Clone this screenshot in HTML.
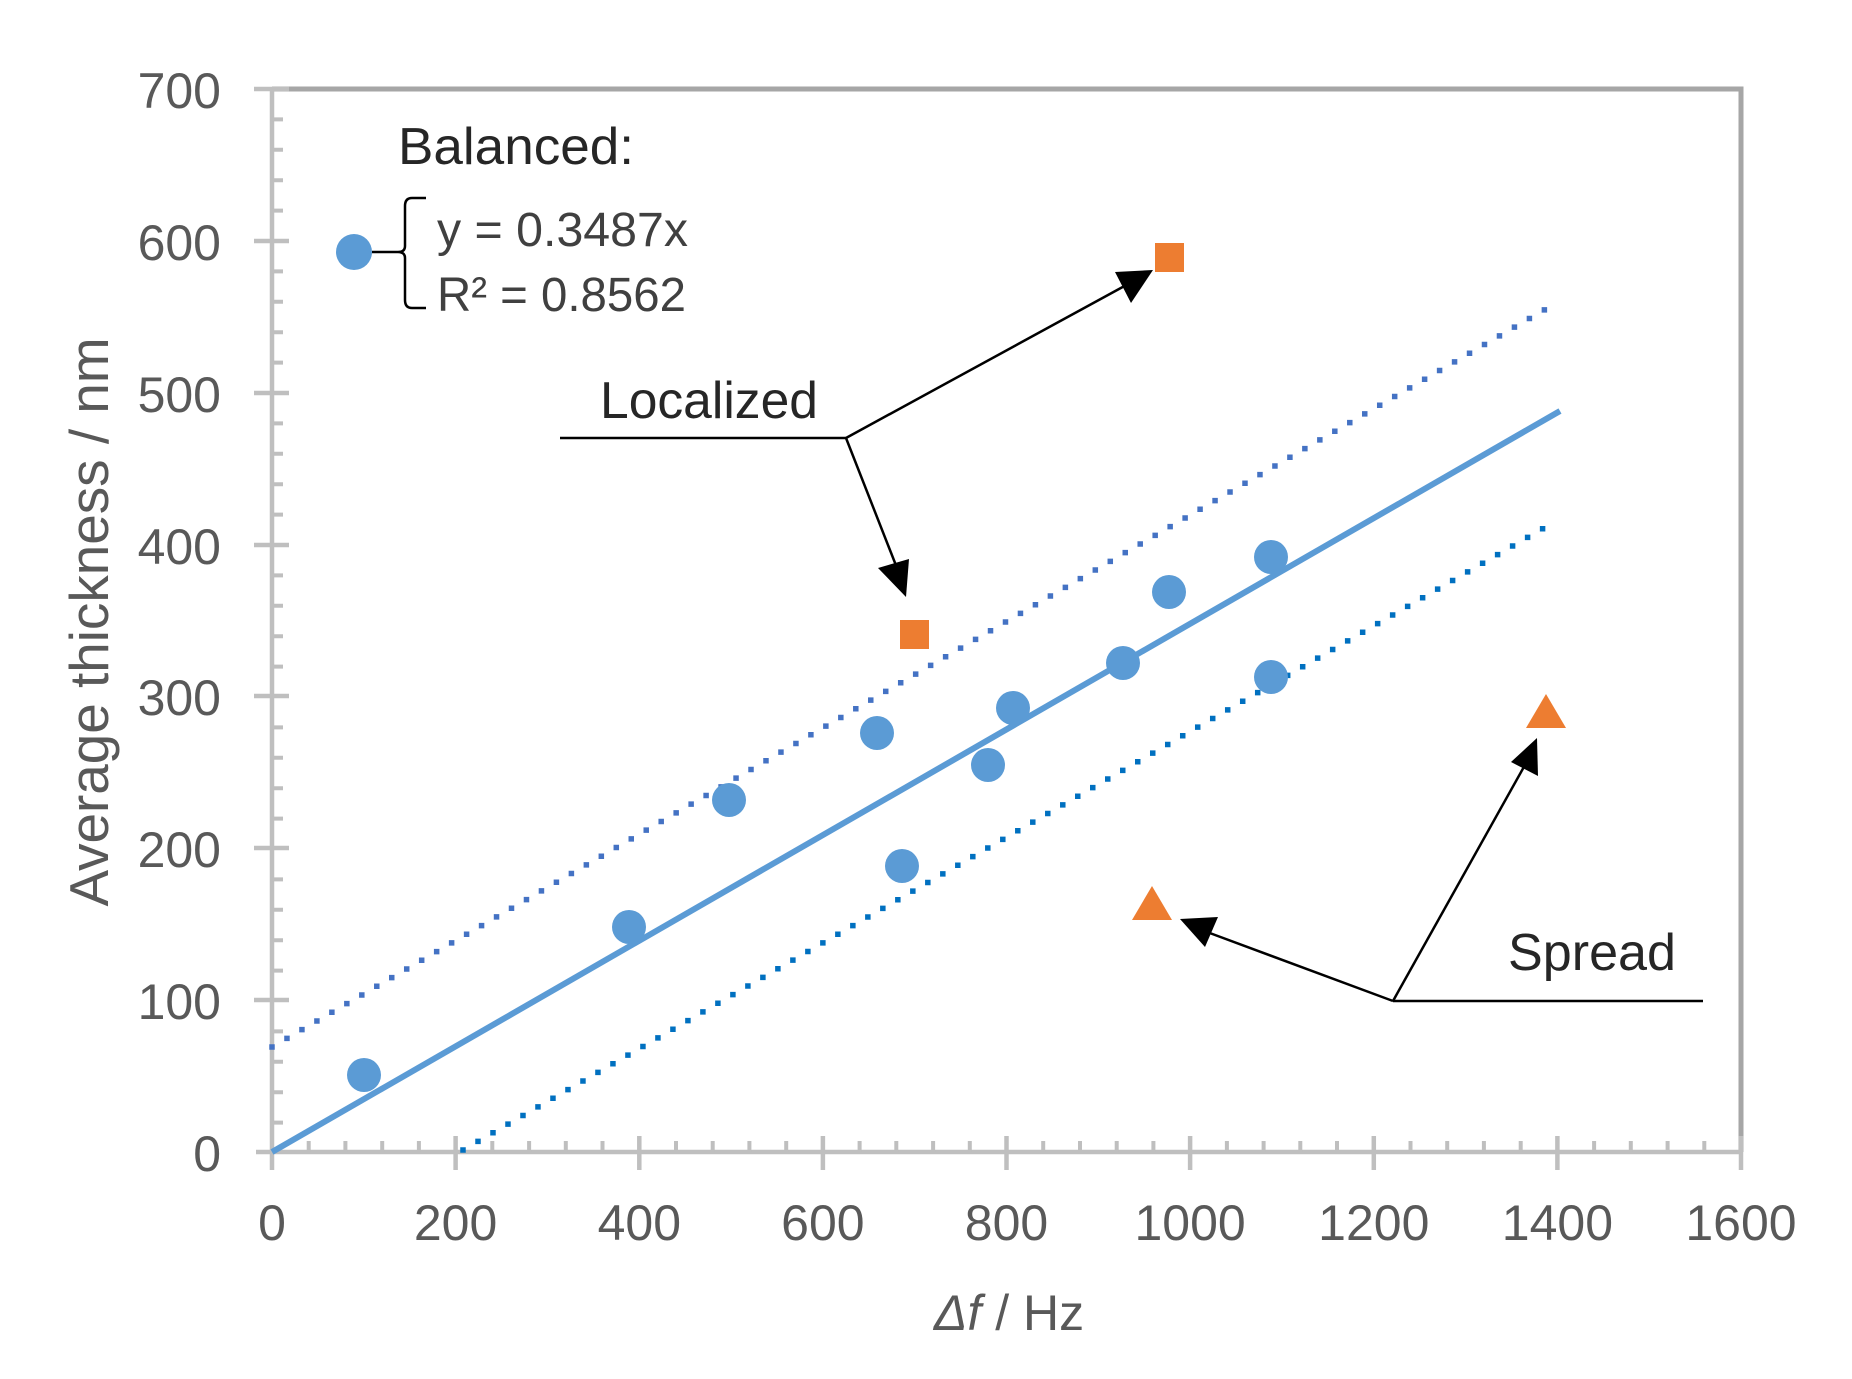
<!DOCTYPE html>
<html><head><meta charset="utf-8"><style>
html,body{margin:0;padding:0;background:#fff;}
svg{display:block;}
</style></head><body>
<svg width="1852" height="1379" viewBox="0 0 1852 1379" xmlns="http://www.w3.org/2000/svg" font-family="Liberation Sans, sans-serif">
<rect width="1852" height="1379" fill="#fff"/>
<!-- top/right border -->
<polyline points="272,89 1741,89 1741,1152" fill="none" stroke="#a6a6a6" stroke-width="5"/>
<!-- axes -->
<g stroke="#bfbfbf" stroke-width="4.5" fill="none">
<line x1="272" y1="87" x2="272" y2="1154"/>
<line x1="256" y1="1152" x2="1743" y2="1152"/>
<!-- y major ticks -->
<path d="M254 89H289M254 241H289M254 393H289M254 545H289M254 696H289M254 848H289M254 1000H289"/>
<!-- x major ticks -->
<path d="M272 1152V1170M455.6 1136V1170M639.3 1136V1170M822.9 1136V1170M1006.5 1136V1170M1190.1 1136V1170M1373.8 1136V1170M1557.4 1136V1170M1741 1136V1170"/>
</g>
<g stroke="#bfbfbf" stroke-width="4" fill="none" id="minor">
<path d="M272 119.4H283M272 149.8H283M272 180.2H283M272 210.6H283M272 271.4H283M272 301.8H283M272 332.2H283M272 362.6H283M272 423.4H283M272 453.8H283M272 484.2H283M272 514.6H283M272 575.4H283M272 605.8H283M272 636.2H283M272 666.6H283M272 727.4H283M272 757.8H283M272 788.2H283M272 818.6H283M272 879.4H283M272 909.8H283M272 940.2H283M272 970.6H283M272 1031.4H283M272 1061.8H283M272 1092.2H283M272 1122.6H283"/>
<path d="M308.7 1152V1141M345.4 1152V1141M382.2 1152V1141M418.9 1152V1141M492.3 1152V1141M529.1 1152V1141M565.8 1152V1141M602.5 1152V1141M676 1152V1141M712.7 1152V1141M749.4 1152V1141M786.2 1152V1141M859.6 1152V1141M896.3 1152V1141M933.1 1152V1141M969.8 1152V1141M1043.2 1152V1141M1080 1152V1141M1116.7 1152V1141M1153.4 1152V1141M1226.9 1152V1141M1263.6 1152V1141M1300.3 1152V1141M1337 1152V1141M1410.5 1152V1141M1447.2 1152V1141M1483.9 1152V1141M1520.7 1152V1141M1594.1 1152V1141M1630.8 1152V1141M1667.6 1152V1141M1704.3 1152V1141"/>
</g>
<!-- y tick labels -->
<g fill="#595959" font-size="50" text-anchor="end">
<text x="221" y="108">700</text>
<text x="221" y="260">600</text>
<text x="221" y="412">500</text>
<text x="221" y="564">400</text>
<text x="221" y="715">300</text>
<text x="221" y="867">200</text>
<text x="221" y="1019">100</text>
<text x="221" y="1171">0</text>
</g>
<g fill="#595959" font-size="50" text-anchor="middle">
<text x="272" y="1240">0</text>
<text x="455.6" y="1240">200</text>
<text x="639.3" y="1240">400</text>
<text x="822.9" y="1240">600</text>
<text x="1006.5" y="1240">800</text>
<text x="1190.1" y="1240">1000</text>
<text x="1373.8" y="1240">1200</text>
<text x="1557.4" y="1240">1400</text>
<text x="1741" y="1240">1600</text>
</g>
<!-- axis titles -->
<text transform="translate(108,622) rotate(-90)" text-anchor="middle" font-size="55" fill="#595959" textLength="569" lengthAdjust="spacingAndGlyphs">Average thickness / nm</text>
<text x="1009" y="1330" text-anchor="middle" font-size="50" fill="#595959"><tspan font-style="italic">Δf</tspan>  / Hz</text>
<!-- trend lines -->
<line x1="272" y1="1152" x2="1560" y2="411" stroke="#5b9bd5" stroke-width="6"/>
<line x1="272" y1="1047" x2="1551" y2="306" stroke="#4472c4" stroke-width="5.5" stroke-dasharray="0 17.3" stroke-linecap="square"/>
<line x1="463" y1="1150" x2="1556" y2="521" stroke="#0070c0" stroke-width="5.5" stroke-dasharray="0 17.3" stroke-linecap="square"/>
<!-- blue points -->
<g fill="#5b9bd5">
<circle cx="364" cy="1075" r="17"/>
<circle cx="629" cy="927" r="17"/>
<circle cx="729" cy="800" r="17"/>
<circle cx="877" cy="733" r="17"/>
<circle cx="902" cy="866" r="17"/>
<circle cx="988" cy="765" r="17"/>
<circle cx="1013" cy="708" r="17"/>
<circle cx="1123" cy="663" r="17"/>
<circle cx="1169" cy="592" r="17"/>
<circle cx="1271" cy="557" r="17"/>
<circle cx="1271" cy="677" r="17"/>
<circle cx="354" cy="252" r="18"/>
</g>
<!-- orange -->
<g fill="#ed7d31">
<rect x="1155" y="243" width="29" height="29"/>
<rect x="900" y="620" width="29" height="29"/>
<polygon points="1546,694 1566,728 1526,728"/>
<polygon points="1152,886 1172,920 1132,920"/>
</g>
<!-- legend brace -->
<g stroke="#000" stroke-width="2.5" fill="none">
<path d="M426 198H412Q405 198 405 206V246Q405 252 398 252Q405 252 405 258V300Q405 308 412 308H426"/>
<line x1="372" y1="252" x2="398" y2="252"/>
</g>
<g font-size="52" fill="#262626">
<text x="398" y="164" textLength="236" lengthAdjust="spacingAndGlyphs">Balanced:</text>
<text x="600" y="418" textLength="218" lengthAdjust="spacingAndGlyphs">Localized</text>
<text x="1508" y="970" textLength="168" lengthAdjust="spacingAndGlyphs">Spread</text>
</g>
<g font-size="48" fill="#404040">
<text x="437" y="246" textLength="251" lengthAdjust="spacingAndGlyphs">y = 0.3487x</text>
<text x="437" y="311" textLength="249" lengthAdjust="spacingAndGlyphs">R² = 0.8562</text>
</g>
<!-- annotation lines/arrows -->
<g stroke="#000" stroke-width="2.5" fill="none">
<line x1="560" y1="438" x2="846" y2="438"/>
<line x1="846" y1="438" x2="1130" y2="283"/>
<line x1="846" y1="438" x2="897" y2="568"/>
<line x1="1393" y1="1001" x2="1703" y2="1001"/>
<line x1="1393" y1="1001" x2="1207" y2="932"/>
<line x1="1393" y1="1001" x2="1525" y2="765"/>
</g>
<g fill="#000">
<polygon points="1153,270 1131,303 1115,272"/>
<polygon points="906,597 878,568 909,559"/>
<polygon points="1180,919 1218,917 1205,947"/>
<polygon points="1537,738 1538,776 1511,762"/>
</g>
</svg>
</body></html>
